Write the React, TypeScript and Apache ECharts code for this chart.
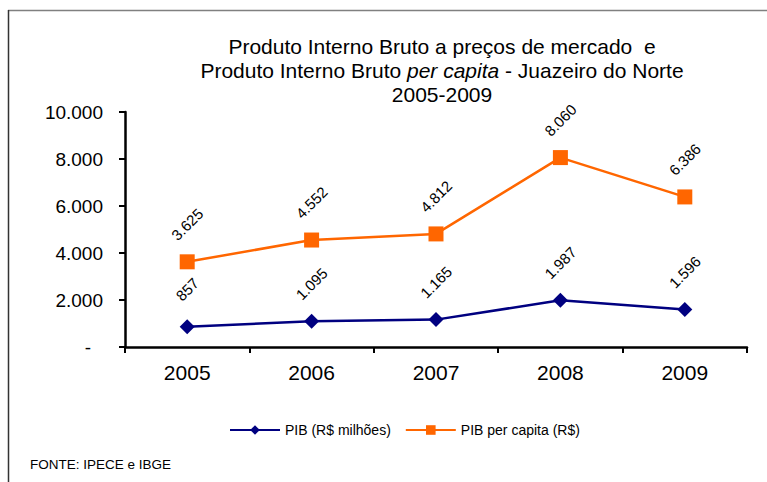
import React, { useEffect, useRef } from "react";
import * as echarts from "echarts";

const years = ["2005", "2006", "2007", "2008", "2009"];
const pib = [857, 1095, 1165, 1987, 1596];
const pibPerCapita = [3625, 4552, 4812, 8060, 6386];
const yTicks = [0, 2000, 4000, 6000, 8000, 10000];

const fmt = (v: number) => {
  if (v === 0) return "-";
  return Math.round(v).toString().replace(/\B(?=(\d{3})+(?!\d))/g, ".");
};

export default function App() {
  const ref = useRef<HTMLDivElement>(null);
  useEffect(() => {
    if (!ref.current) return;
    const chart = echarts.init(ref.current, null, { renderer: "svg" });
    const font = "'Liberation Sans', Arial, sans-serif";
    const labelCfg = {
      show: true,
      position: ["50%", -30] as any,
      rotate: 45,
      align: "center",
      verticalAlign: "middle",
      fontSize: 15,
      fontFamily: font,
      color: "#000",
      formatter: (p: any) => fmt(p.value),
    };
    chart.setOption({
      animation: false,
      backgroundColor: "#fff",
      textStyle: { fontFamily: font },
      title: {
        left: 437,
        top: 29,
        textAlign: "center",
        text:
          "{a|Produto Interno Bruto a preços de mercado  e}\n{a|Produto Interno Bruto }{i|per capita}{a| - Juazeiro do Norte}\n{a|2005-2009}",
        textStyle: {
          fontWeight: "normal",
          rich: {
            a: { fontSize: 21, fontWeight: "normal", fontFamily: font, color: "#000", lineHeight: 24 },
            i: { fontSize: 21, fontWeight: "normal", fontFamily: font, color: "#000", fontStyle: "italic", lineHeight: 24 },
          },
        },
      },
      graphic: [
        { type: "line", shape: { x1: 8, y1: 10.5, x2: 767, y2: 10.5 }, style: { stroke: "#808080", lineWidth: 1.5 } },
        { type: "line", shape: { x1: 8.5, y1: 10, x2: 8.5, y2: 482 }, style: { stroke: "#333", lineWidth: 1.5 } },
        {
          type: "text",
          left: 30,
          top: 457,
          style: { text: "FONTE: IPECE e IBGE", fontSize: 13.5, fontFamily: font, fill: "#000" },
        },
      ],
      legend: {
        bottom: 40,
        left: 224,
        itemWidth: 50,
        itemHeight: 12,
        itemGap: 14,
        textStyle: { fontSize: 14, fontFamily: font, color: "#000" },
        data: ["PIB (R$ milhões)", "PIB per capita (R$)"],
      },
      grid: { left: 125, right: 20, top: 112, bottom: 135 },
      xAxis: {
        type: "category",
        data: years,
        boundaryGap: true,
        axisLine: { lineStyle: { color: "#000", width: 2.5 } },
        axisTick: { show: true, length: 6, lineStyle: { color: "#000", width: 2 } },
        axisLabel: { fontSize: 21, color: "#000", margin: 15, fontFamily: font },
      },
      yAxis: {
        type: "value",
        min: 0,
        max: 10000,
        interval: 2000,
        splitLine: { show: false },
        axisLine: { show: true, lineStyle: { color: "#000", width: 2.5 } },
        axisTick: { show: true, length: 6, lineStyle: { color: "#000", width: 2 } },
        axisLabel: {
          fontSize: 19,
          color: "#000",
          margin: 22,
          fontFamily: font,
          formatter: (v: number) => (v === 0 ? "{d|-}" : fmt(v)),
          rich: { d: { fontSize: 19, fontFamily: font, color: "#000", padding: [0, 12, 0, 0] } },
        },
      },
      series: [
        {
          name: "PIB (R$ milhões)",
          type: "line",
          data: pib,
          symbol: "diamond",
          symbolSize: 15,
          lineStyle: { color: "#000080", width: 2.5 },
          itemStyle: { color: "#000080" },
          label: labelCfg,
        },
        {
          name: "PIB per capita (R$)",
          type: "line",
          data: pibPerCapita,
          symbol: "rect",
          symbolSize: 15,
          lineStyle: { color: "#FF6600", width: 2.5 },
          itemStyle: { color: "#FF6600" },
          label: labelCfg,
        },
      ],
    });
    return () => chart.dispose();
  }, []);
  return <div ref={ref} style={{ width: 767, height: 482, position: "absolute", left: 0, top: 0 }} />;
}
